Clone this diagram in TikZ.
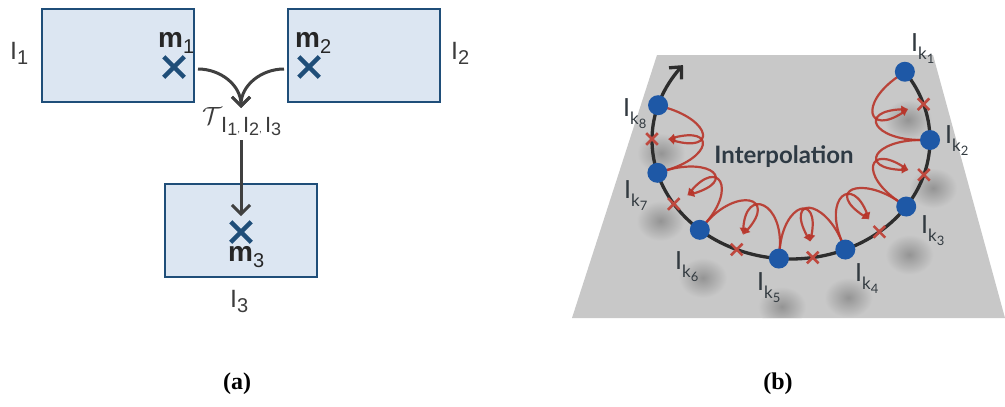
\documentclass[tikz,border=0pt]{standalone}
\usepackage{fontspec}
\setmainfont{Liberation Serif}
\newfontfamily\arialf{Liberation Sans}
\newfontfamily\latof{Lato}
\usetikzlibrary{arrows.meta,shapes.misc,calc}
\definecolor{boxfill}{HTML}{DCE6F2}
\definecolor{boxline}{HTML}{1F4E79}
\definecolor{arrgray}{HTML}{404040}
\definecolor{lblgray}{HTML}{3C3C3C}
\definecolor{planec}{HTML}{C8C8C8}
\definecolor{dotblue}{HTML}{1E58A6}
\definecolor{redarr}{HTML}{B8352A}
\definecolor{curvec}{HTML}{2D2D2D}
\definecolor{interpc}{HTML}{2E3A44}
\definecolor{klabc}{HTML}{323A40}
\newcommand{\Ilab}[1]{{\fontsize{25}{25}\selectfont I}\raisebox{-8pt}{\fontsize{17}{17}\selectfont k\raisebox{-4pt}{\fontsize{13}{13}\selectfont #1}}}
\newcommand{\Llab}[1]{{\fontsize{25}{25}\selectfont I}\raisebox{-5pt}{\fontsize{20}{20}\selectfont #1}}
\newcommand{\Mlab}[1]{{\bfseries\fontsize{28}{28}\selectfont m}\raisebox{-6pt}{\fontsize{20}{20}\selectfont #1}}
\newcommand{\Tsub}[1]{{\fontsize{22}{22}\selectfont I}\raisebox{-3pt}{\fontsize{18}{18}\selectfont #1}}
\tikzset{
  imgbox/.style={draw=boxline, fill=boxfill, line width=2.7pt, minimum width=152pt, minimum height=93pt, inner sep=0pt},
  bluex/.style={cross out, draw=boxline, line width=4.5pt, minimum size=16pt, inner sep=0pt},
  redx/.style={cross out, draw=redarr!90, line width=2.6pt, minimum size=9pt, inner sep=0pt},
  garrow/.style={draw=arrgray, line width=3pt, -{Straight Barb[length=9pt,width=18pt]}},
  llab/.style={font=\arialf, text=lblgray, inner sep=0pt, anchor=north west},
  klab/.style={font=\latof, text=klabc, inner sep=0pt, anchor=north west},
  bdot/.style={circle, fill=dotblue, minimum size=20pt, inner sep=0pt},
  redloop/.style={draw=redarr, opacity=0.9, line width=2.2pt, -{Latex[length=7pt,width=8pt]}},
  caption/.style={font=\bfseries\fontsize{24}{24}\selectfont, inner sep=0pt}
}
\begin{document}
\begin{tikzpicture}[x=1pt,y=-1pt]
\useasboundingbox (0,0) rectangle (1005,407);
\fill[white] (0,0) rectangle (1005,407);
% ---------- panel (a)
\node[imgbox] (B1) at (118,55.5) {};
\node[imgbox] (B2) at (364,55.5) {};
\node[imgbox] (B3) at (241,230.5) {};
\node[bluex] (X1) at (174,67) {};
\node[bluex] (X2) at (309,67) {};
\node[bluex] (X3) at (241,232) {};
\node[llab] (I1) at (10,42) {\Llab{1}};
\node[llab] (I2) at (451,42) {\Llab{2}};
\node[llab] (I3) at (230,290) {\Llab{3}};
\node[llab, text=black!85] (M1) at (158,32) {\Mlab{1}};
\node[llab, text=black!85] (M2) at (295,32) {\Mlab{2}};
\node[llab, text=black!85] (M3) at (228,246) {\Mlab{3}};
\coordinate (a1) at (198,69);
\coordinate (a2) at (284,69);
\coordinate (tip) at (241,108);
\coordinate (vs) at (241,140);
\coordinate (ve) at (241,216);
\draw[garrow] (a1) to[out=0,in=90] (tip);
\draw[garrow] (a2) to[out=180,in=90] (tip);
\draw[garrow] (vs) -- (ve);
\node[inner sep=0pt, anchor=south west, text=lblgray] (T) at (202,125) {\fontsize{34}{34}\selectfont$\mathcal{T}$};
\node[llab] (Ts) at (221,117) {\Tsub{1},\hspace{3pt}\Tsub{2},\hspace{3pt}\Tsub{3}};
% ---------- panel (b)
\path[fill=planec] (657,55) -- (933,55) -- (1005,318) -- (572,318) -- cycle;
\def\cx{791}\def\cy{140}\def\ra{139}\def\rb{119}
\foreach \i/\t in {1/-35,2/0,3/34,4/67,5/95,6/131,7/164,8/197} {
  \coordinate (k\i) at ({\cx+\ra*cos(\t)},{\cy+\rb*sin(\t)});
}
\foreach \j/\t in {1/-17.5,2/17,3/50.5,4/81,5/113,6/147.5,7/180.5} {
  \coordinate (c\j) at ({\cx+\ra*cos(\t)},{\cy+\rb*sin(\t)});
}
% shadows (clipped to the plane)
\begin{scope}
\clip (657,55) -- (933,55) -- (1005,318) -- (572,318) -- cycle;
\foreach \i in {1,...,8} {
  \shade[inner color=black!26!planec, outer color=planec] ($(k\i)+(3,48)$) ellipse (24pt and 20pt);
}
\end{scope}
% curve
\draw[curvec, line width=3.3pt, -{Straight Barb[length=9pt,width=17pt]}]
  plot[domain=-35:219, samples=120] ({\cx+\ra*cos(\x)},{\cy+\rb*sin(\x)});
% red crosses
\foreach \j in {1,...,7} { \node[redx] (R\j) at (c\j) {}; }
% red loops: dot parameter / cross parameter / direction
\foreach \n/\d/\c/\s in {1/-35/-17.5/1, 2/0/-17.5/-1, 3/0/17/1, 4/34/17/-1, 5/34/50.5/1, 6/67/50.5/-1, 7/67/81/1, 8/95/81/-1, 9/95/113/1, 10/131/113/-1, 11/131/147.5/1, 12/164/147.5/-1, 13/164/180.5/1, 14/197/180.5/-1} {
  \coordinate (rs\n) at ({\cx+(\ra-9)*cos(\d)},{\cy+(\rb-9)*sin(\d)});
  \coordinate (ra\n) at ({\cx+(\ra-56)*cos(\d)},{\cy+(\rb-56)*sin(\d)});
  \coordinate (rb\n) at ({\cx+(\ra-62)*cos(\c+\s*13)},{\cy+(\rb-62)*sin(\c+\s*13)});
  \coordinate (re\n) at ({\cx+(\ra-16)*cos(\c)},{\cy+(\rb-16)*sin(\c)});
  \draw[redloop] (rs\n) .. controls (ra\n) and (rb\n) .. (re\n);
}
% dots
\foreach \i in {1,...,8} { \node[bdot] (K\i) at (k\i) {}; }
\node[font=\latof\bfseries\fontsize{24}{24}\selectfont, text=interpc, anchor=base] (interp) at (784,163) {Interpolation};
\node[klab] (L1) at (911,33) {\Ilab{1}};
\node[klab] (L2) at (945,125) {\Ilab{2}};
\node[klab] (L3) at (921,215) {\Ilab{3}};
\node[klab] (L4) at (855,263) {\Ilab{4}};
\node[klab] (L5) at (757,272) {\Ilab{5}};
\node[klab] (L6) at (675,251) {\Ilab{6}};
\node[klab] (L7) at (624,180) {\Ilab{7}};
\node[klab] (L8) at (623,98) {\Ilab{8}};
% captions
\node[caption] (capa) at (237,384) {(a)};
\node[caption] (capb) at (778,384) {(b)};
\end{tikzpicture}
\end{document}
